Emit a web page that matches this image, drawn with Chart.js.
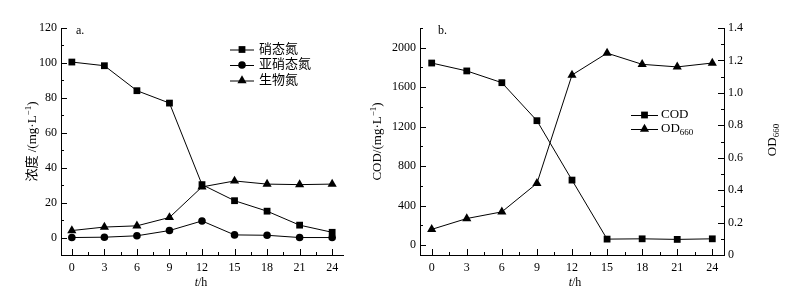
<!DOCTYPE html>
<html>
<head>
<meta charset="utf-8">
<script src="https://cdn.jsdelivr.net/npm/chart.js@4.4.0/dist/chart.umd.min.js"></script>
<style>
  html, body { margin: 0; padding: 0; background: #fff; }
  #wrap { position: relative; width: 785px; height: 298px; }
  canvas { position: absolute; top: 0; }
  #ca { left: 0; }
  #cb { left: 365px; }
</style>
</head>
<body>
<div id="wrap">
  <canvas id="ca" width="365" height="298"></canvas>
  <canvas id="cb" width="420" height="298"></canvas>
</div>
<script>
// sampling times (h)
const hours = [0, 3, 6, 9, 12, 15, 18, 21, 24];

// panel a: nitrogen species, mg/L
const nitrate = [100.5, 98.4, 84.1, 77.0, 30.3, 21.1, 15.1, 7.1, 3.0];
const nitrite = [0, 0.2, 1.0, 4.0, 9.5, 1.5, 1.3, 0, 0];
const bioN    = [4.0, 6.0, 6.7, 11.5, 29.0, 32.4, 30.6, 30.3, 30.6];

// panel b: COD (mg/L) and OD660
const cod   = [1845, 1765, 1646, 1261, 659, 61, 64, 58, 64];
const od660 = [0.158, 0.225, 0.266, 0.442, 1.11, 1.245, 1.176, 1.16, 1.184];

// tick values / labels
const xTicks   = [0, 3, 6, 9, 12, 15, 18, 21, 24];
const yTicksA  = [0, 20, 40, 60, 80, 100, 120];
const yTicksB  = [0, 400, 800, 1200, 1600, 2000];
const y1TicksB = [0, 0.2, 0.4, 0.6, 0.8, 1.0, 1.2, 1.4];
const y1LabelsB = ['0', '0.2', '0.4', '0.6', '0.8', '1.0', '1.2', '1.4'];

const FAMILY = '"Liberation Serif", "Times New Roman", "Noto Sans CJK SC", serif';
Chart.defaults.font.family = FAMILY;
Chart.defaults.font.size = 12;
Chart.defaults.color = '#000';

const mid = t => t.slice(1).map((v, i) => (v + t[i]) / 2);
const pts = (ys) => hours.map((h, i) => ({ x: h, y: ys[i] }));

// text with italic / sub / superscript pieces
function drawRich(ctx, segs, x, y, align, size, rot) {
  ctx.save();
  ctx.translate(x, y);
  ctx.rotate(rot || 0);
  ctx.fillStyle = '#000';
  ctx.textBaseline = 'middle';
  ctx.textAlign = 'left';
  const fontOf = s => (s.i ? 'italic ' : '') + ((s.sub || s.sup) ? Math.round(size * 0.72) : size) + 'px ' + FAMILY;
  const widths = segs.map(s => { ctx.font = fontOf(s); return ctx.measureText(s.t).width; });
  const total = widths.reduce((a, b) => a + b, 0);
  let cx = align === 'center' ? -total / 2 : 0;
  segs.forEach((s, k) => {
    ctx.font = fontOf(s);
    ctx.fillText(s.t, cx, s.sub ? size * 0.3 : (s.sup ? -size * 0.35 : 0));
    cx += widths[k];
  });
  ctx.restore();
}

// inward major/minor tick marks
const inTicks = {
  id: 'inTicks',
  afterDraw(chart, args, opts) {
    const ctx = chart.ctx;
    ctx.save();
    ctx.strokeStyle = '#000';
    ctx.lineWidth = 1;
    for (const id in opts.axes) {
      const s = chart.scales[id], a = opts.axes[id];
      const tick = (v, len) => {
        const p = Math.round(s.getPixelForValue(v)) + 0.5;
        ctx.beginPath();
        if (s.isHorizontal()) {
          ctx.moveTo(p, s.top); ctx.lineTo(p, s.top - len);
        } else if (s.position === 'left') {
          ctx.moveTo(s.right, p); ctx.lineTo(s.right + len, p);
        } else {
          ctx.moveTo(s.left, p); ctx.lineTo(s.left - len, p);
        }
        ctx.stroke();
      };
      a.major.forEach(v => tick(v, 6));
      a.minor.forEach(v => tick(v, 3));
    }
    ctx.restore();
  }
};

// legend: line - marker - line, then label
const lineLegend = {
  id: 'lineLegend',
  afterDraw(chart, args, o) {
    const ctx = chart.ctx;
    chart.data.datasets.forEach((ds, i) => {
      const y = o.y + i * o.dy;
      ctx.save();
      ctx.strokeStyle = '#000';
      ctx.fillStyle = '#000';
      ctx.lineWidth = 1;
      ctx.beginPath();
      ctx.moveTo(o.x, y + 0.5);
      ctx.lineTo(o.x + o.len, y + 0.5);
      ctx.stroke();
      Chart.helpers.drawPoint(ctx, { pointStyle: ds.pointStyle, radius: ds.pointRadius, rotation: 0, borderWidth: 0 }, o.x + o.len / 2, y);
      ctx.restore();
      drawRich(ctx, o.labels[i], o.x + o.len + o.gap, y, 'left', o.size, 0);
    });
  }
};

// axis titles and panel tags
const texts = {
  id: 'texts',
  afterDraw(chart, args, o) {
    o.items.forEach(t => drawRich(chart.ctx, t.segs, t.x, t.y, t.align || 'center', t.size, t.rot));
  }
};

function dataset(label, ys, style, r, axis) {
  return {
    label, data: pts(ys), yAxisID: axis || 'y',
    pointStyle: style, pointRadius: r, pointBorderWidth: 0,
    pointBackgroundColor: '#000', pointBorderColor: '#000',
    borderColor: '#000', backgroundColor: '#000', borderWidth: 1, tension: 0
  };
}

function axisX() {
  return {
    type: 'linear', min: -1, max: 25,
    afterBuildTicks: s => { s.ticks = xTicks.map(v => ({ value: v })); },
    afterFit: s => { s.height = 43; },
    grid: { display: false, drawTicks: false },
    border: { color: '#000', width: 1 },
    ticks: { padding: 6, maxRotation: 0, autoSkip: false }
  };
}

function axisY(pos, min, max, vals, width, labels) {
  return {
    type: 'linear', position: pos, min, max,
    afterBuildTicks: s => { s.ticks = vals.map(v => ({ value: v })); },
    afterFit: s => { s.width = width; },
    grid: { display: false, drawTicks: false },
    border: { color: '#000', width: 1 },
    ticks: { padding: 4, autoSkip: false, callback: (v, i) => labels ? labels[i] : String(v) }
  };
}

const commonOpts = { responsive: false, animation: false, events: [] };

new Chart(document.getElementById('ca'), {
  type: 'line',
  data: {
    datasets: [
      dataset('硝态氮', nitrate, 'rect', 4.8),
      dataset('亚硝态氮', nitrite, 'circle', 3.8),
      dataset('生物氮', bioN, 'triangle', 5.3)
    ]
  },
  options: {
    ...commonOpts,
    layout: { padding: { left: 0, right: 22, top: 28, bottom: 0 } },
    scales: {
      x: axisX(),
      y: axisY('left', -10, 120, yTicksA, 61)
    },
    plugins: {
      legend: { display: false },
      tooltip: { enabled: false },
      inTicks: { axes: {
        x: { major: xTicks, minor: mid(xTicks) },
        y: { major: yTicksA, minor: mid(yTicksA) }
      } },
      lineLegend: {
        x: 230, y: 49.5, dy: 15.5, len: 24, gap: 5, size: 13,
        labels: [[{ t: '硝态氮' }], [{ t: '亚硝态氮' }], [{ t: '生物氮' }]]
      },
      texts: { items: [
        { segs: [{ t: '浓度 /(mg·L' }, { t: '−1', sup: true }, { t: ')' }], x: 33, y: 141.5, size: 13, rot: -Math.PI / 2 },
        { segs: [{ t: 't', i: true }, { t: '/h' }], x: 201, y: 283, size: 12 },
        { segs: [{ t: 'a.' }], x: 76, y: 31, size: 12, align: 'left' }
      ] }
    }
  },
  plugins: [inTicks, lineLegend, texts]
});

new Chart(document.getElementById('cb'), {
  type: 'line',
  data: {
    datasets: [
      dataset('COD', cod, 'rect', 4.8, 'y'),
      dataset('OD660', od660, 'triangle', 5.3, 'y1')
    ]
  },
  options: {
    ...commonOpts,
    layout: { padding: { left: 0, right: 0, top: 28, bottom: 0 } },
    scales: {
      x: axisX(),
      y: axisY('left', -100, 2200, yTicksB, 55),
      y1: axisY('right', 0, 1.4, y1TicksB, 61, y1LabelsB)
    },
    plugins: {
      legend: { display: false },
      tooltip: { enabled: false },
      inTicks: { axes: {
        x: { major: xTicks, minor: mid(xTicks) },
        y: { major: yTicksB, minor: mid(yTicksB).concat([2200]) },
        y1: { major: y1TicksB, minor: mid(y1TicksB) }
      } },
      lineLegend: {
        x: 266, y: 115, dy: 14, len: 27, gap: 3, size: 13,
        labels: [[{ t: 'COD' }], [{ t: 'OD' }, { t: '660', sub: true }]]
      },
      texts: { items: [
        { segs: [{ t: 'COD/(mg·L' }, { t: '−1', sup: true }, { t: ')' }], x: 13, y: 141.5, size: 13, rot: -Math.PI / 2 },
        { segs: [{ t: 'OD' }, { t: '660', sub: true }], x: 408, y: 140, size: 13, rot: -Math.PI / 2 },
        { segs: [{ t: 't', i: true }, { t: '/h' }], x: 210, y: 283, size: 12 },
        { segs: [{ t: 'b.' }], x: 73, y: 31, size: 12, align: 'left' }
      ] }
    }
  },
  plugins: [inTicks, lineLegend, texts]
});
</script>
</body>
</html>
